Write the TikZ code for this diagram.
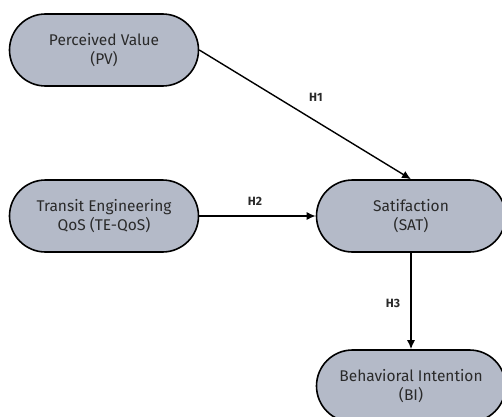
\documentclass[tikz,border=0pt]{standalone}
\usepackage{fontspec}
\setmainfont{Fira Sans}
\usetikzlibrary{arrows.meta}
\definecolor{boxfill}{HTML}{B4BAC8}
\definecolor{textgray}{HTML}{2A2A2A}
\tikzset{
    construct/.style={draw=black, line width=1.6pt, fill=boxfill, rounded corners=36pt,
        minimum width=189pt, minimum height=72pt, align=center, text=textgray,
        font=\fontsize{15.5}{18.5}\selectfont},
    hyp/.style={font=\fontsize{12}{14}\selectfont\bfseries, text=textgray},
    link/.style={-{Latex[length=9pt,width=8pt]}, line width=1.4pt}
}
\begin{document}
\begin{tikzpicture}[x=1pt, y=1pt]
    \useasboundingbox (0,0) rectangle (502,416);

    % Constructs
    \node[construct] (pv) at (104,366) {Perceived Value\\(PV)};
    \node[construct] (te) at (104,200) {Transit Engineering\\QoS (TE-QoS)};
    \node[construct] (sat) at (411,200) {Satifaction\\(SAT)};
    \node[construct] (bi) at (411,30) {Behavioral Intention\\(BI)};

    % Hypotheses
    \draw[link] (pv.east) -- (sat.north);
    \node[hyp] (h1) at (316,319) {H1};

    \draw[link] (te.east) -- (sat.west);
    \node[hyp] (h2) at (255,215) {H2};

    \draw[link] (sat.south) -- (bi.north);
    \node[hyp] (h3) at (393,113) {H3};
\end{tikzpicture}
\end{document}
